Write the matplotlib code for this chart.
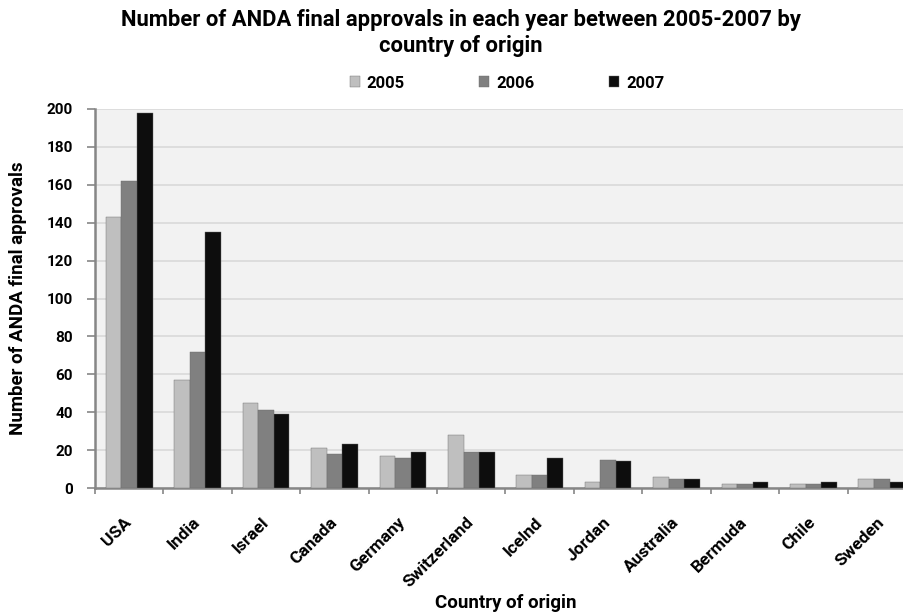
import matplotlib
matplotlib.use("Agg")
import matplotlib.pyplot as plt
import numpy as np

countries = ["USA", "India", "Israel", "Canada", "Germany", "Switzerland",
             "Icelnd", "Jordan", "Australia", "Bermuda", "Chile", "Sweden"]
years = ["2005", "2006", "2007"]
v2005 = [143, 57, 45, 21, 17, 28, 7, 3, 6, 2, 2, 5]
v2006 = [162, 72, 41, 18, 16, 19, 7, 15, 5, 2, 2, 5]
v2007 = [198, 135, 39, 23, 19, 19, 16, 14, 5, 3, 3, 3]
colors = ["#bfbfbf", "#808080", "#0d0d0d"]
y_ticks = list(range(0, 201, 20))

plt.rcParams["font.family"] = ["Roboto", "DejaVu Sans"]
plt.rcParams["font.weight"] = "bold"

W, H = 904, 613
fig = plt.figure(figsize=(W / 100, H / 100), dpi=100)
x0, x1 = 95 / W, 916 / W
y0, y1 = 1 - 488 / H, 1 - 109 / H
ax = fig.add_axes([x0, y0, x1 - x0, y1 - y0])
ax.set_facecolor("#f2f2f2")

n = len(countries)
x = np.arange(n)
bw = 0.227
for i, (vals, c, lab) in enumerate(zip([v2005, v2006, v2007], colors, years)):
    ax.bar(x + (i - 1) * bw, vals, width=bw, color=c, edgecolor="#6a6a6a",
           linewidth=0.3, label=lab, zorder=3)

ax.set_xlim(-0.5, n - 0.5)
ax.set_ylim(0, 200)
ax.set_yticks(y_ticks)
ax.yaxis.grid(True, color="#d9d9d9", linewidth=1.2, zorder=0)
ax.set_axisbelow(True)

# group separators as major ticks, country names on minor ticks
ax.set_xticks(np.arange(-0.5, n, 1.0), minor=False)
ax.set_xticklabels([])
ax.set_xticks(x, minor=True)
ax.set_xticklabels(countries, minor=True, rotation=45, ha="right", va="center",
                   rotation_mode="anchor", fontsize=12.5, fontweight="bold")
ax.tick_params(axis="x", which="minor", length=0, pad=23)
ax.tick_params(axis="x", which="major", length=4, width=1.2, color="#868686",
               direction="out")
ax.tick_params(axis="y", length=6, width=1.2, color="#868686", labelsize=11, pad=10)
for t in ax.get_yticklabels():
    t.set_fontweight("bold")

for s in ["top", "right"]:
    ax.spines[s].set_visible(False)
for s in ["left", "bottom"]:
    ax.spines[s].set_color("#868686")
    ax.spines[s].set_linewidth(1.8)

ax.set_ylabel("Number of ANDA final approvals", fontsize=13.5, fontweight="bold")
ax.yaxis.set_label_coords((27 - 95) / (916 - 95), 0.5)
ax.set_xlabel("Country of origin", fontsize=13.5, fontweight="bold")
ax.xaxis.set_label_coords(0.5, -(603 - 488) / (488 - 109))
ax.xaxis.label.set_va("center")

fig.text(461 / W, 1 - 33 / H,
         "Number of ANDA final approvals in each year between 2005-2007 by\ncountry of origin",
         ha="center", va="center", fontsize=15.8, fontweight="bold", linespacing=1.2)

leg = fig.legend(loc="center", bbox_to_anchor=(507 / W, 1 - 83 / H), ncol=3,
                 frameon=False, fontsize=12, handlelength=0.6, handleheight=0.6,
                 columnspacing=4.5, handletextpad=0.4)
for t in leg.get_texts():
    t.set_fontweight("bold")

fig.savefig("out.png", dpi=100)
